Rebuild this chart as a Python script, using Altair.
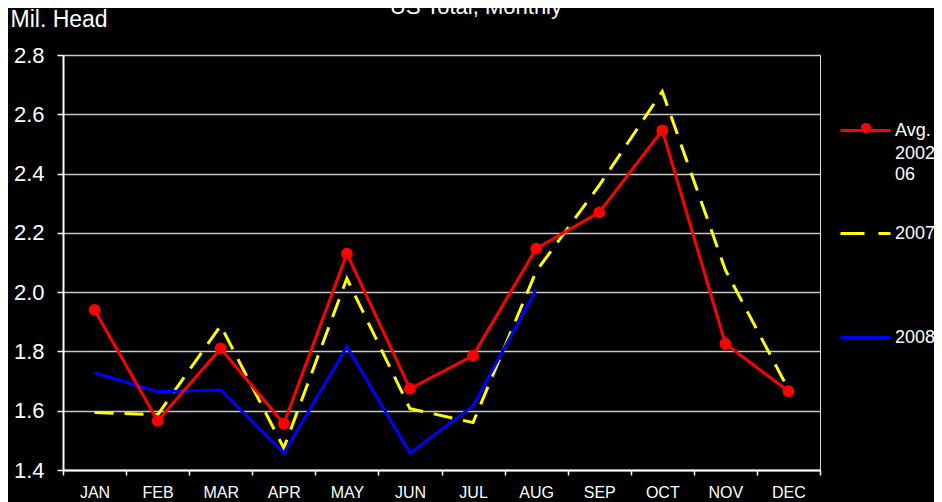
import altair as alt
import pandas as pd

# ---- data ----
months = ["JAN", "FEB", "MAR", "APR", "MAY", "JUN", "JUL", "AUG", "SEP", "OCT", "NOV", "DEC"]
avg_0206 = [1.940, 1.566, 1.810, 1.556, 2.130, 1.674, 1.786, 2.147, 2.269, 2.546, 1.826, 1.666]
y2007 = [1.594, 1.586, 1.887, 1.474, 2.046, 1.607, 1.560, 2.070, 2.360, 2.677, 2.075, 1.672]
y2008 = [1.728, 1.664, 1.670, 1.457, 1.816, 1.457, 1.616, 2.009]
series_names = ["Avg. 2002-06", "2007", "2008"]
y_ticks = [1.4, 1.6, 1.8, 2.0, 2.2, 2.4, 2.6, 2.8]
title_text = "US Total, Monthly"
y_title = "Mil. Head"

df_avg = pd.DataFrame({"month": months, "value": avg_0206, "series": series_names[0]})
df_07 = pd.DataFrame({"month": months, "value": y2007, "series": series_names[1]})
df_08 = pd.DataFrame({"month": months[:len(y2008)], "value": y2008, "series": series_names[2]})

# legend label of the first series is wrapped over three lines in the reference
avg_first, avg_rest = "Avg.", "2002-\n06"

FONT = "Liberation Sans"

x_enc = alt.X(
    "month:N", sort=months, bandPosition=0.5,
    scale=alt.Scale(type="band", paddingInner=0, paddingOuter=0),
    axis=alt.Axis(title=None, labelAngle=0, labelColor="white", labelFontSize=16,
                  labelFont=FONT, tickColor="white", tickSize=5, tickWidth=1.5,
                  domainColor="white", domainWidth=2, tickBand="extent",
                  labelPadding=9, grid=False),
)
y_enc = alt.Y(
    "value:Q",
    scale=alt.Scale(domain=[1.4, 2.8], nice=False, zero=False),
    axis=alt.Axis(values=y_ticks, format=".1f", title=y_title, titleAngle=0,
                  titleX=-53, titleY=-29, titleAlign="left", titleBaseline="alphabetic",
                  titleFontSize=23, titleFontWeight="normal", titleColor="white", titleFont=FONT,
                  labelFontSize=22, labelColor="white", labelFont=FONT, labelPadding=13,
                  tickSize=6, tickColor="white", tickWidth=1.5, domainColor="white",
                  domainWidth=2, gridColor="#c8c8c8", gridWidth=1.5),
)

def leg(x, y, **kw):
    base = dict(orient="none", legendX=x, legendY=y, title=None, labelColor="white",
                labelFontSize=18, labelFont=FONT, labelOffset=3, padding=0)
    base.update(kw)
    return alt.Legend(**base)

red_line = alt.Chart(df_avg).mark_line(strokeWidth=3).encode(
    x=x_enc, y=y_enc,
    color=alt.Color("series:N", scale=alt.Scale(domain=[series_names[0]], range=["#ff0000"]),
                    legend=leg(776, 49, symbolType="stroke", symbolSize=2500, symbolStrokeWidth=3,
                               labelExpr=f"'{avg_first}'")),
)
red_pts = alt.Chart(df_avg).mark_circle(size=140, opacity=1).encode(
    x=x_enc, y=y_enc,
    color=alt.Color("series:N", scale=alt.Scale(domain=[series_names[0]], range=["#ff0000"]),
                    legend=leg(794, 64, symbolType="circle", symbolSize=110, labelExpr="''")),
)
yellow = alt.Chart(df_07).mark_line(strokeWidth=3, strokeDash=[19, 11]).encode(
    x=x_enc, y=y_enc,
    color=alt.Color("series:N", scale=alt.Scale(domain=[series_names[1]], range=["#ffff00"]),
                    legend=leg(776, 152, symbolType="stroke", symbolSize=2500, symbolStrokeWidth=3,
                               symbolDash=[24, 14])),
)
blue = alt.Chart(df_08).mark_line(strokeWidth=3).encode(
    x=x_enc, y=y_enc,
    color=alt.Color("series:N", scale=alt.Scale(domain=[series_names[2]], range=["#0000ff"]),
                    legend=leg(776, 256, symbolType="stroke", symbolSize=2500, symbolStrokeWidth=3)),
)
avg_cont = alt.Chart(pd.DataFrame({"t": [avg_rest]})).mark_text(
    color="white", fontSize=18, font=FONT, align="left", baseline="top",
    lineBreak="\n", lineHeight=21
).encode(text="t:N", x=alt.value(832), y=alt.value(90))

title = alt.Chart(pd.DataFrame({"t": [title_text]})).mark_text(
    color="white", fontSize=22, font=FONT, align="center", baseline="alphabetic"
).encode(text="t:N", x=alt.value(413), y=alt.value(-41))

chart = alt.layer(yellow, blue, red_line, red_pts, avg_cont, title).resolve_scale(
    color="independent"
).properties(
    width=757, height=415,
    autosize=alt.AutoSizeParams(type="none"),
    padding={"left": 55, "top": 47, "right": 114, "bottom": 32},
    background="black",
).configure_view(stroke="white", strokeWidth=2).configure(font=FONT)

chart.save("out.html", embed_options={"renderer": "svg", "actions": False})
